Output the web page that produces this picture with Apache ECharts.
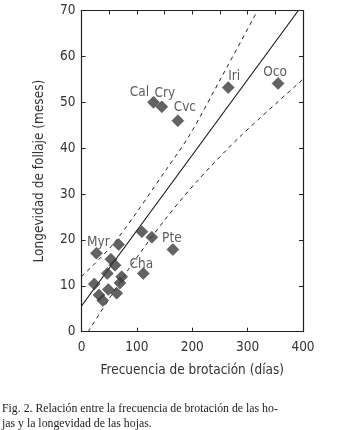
<!DOCTYPE html>
<html>
<head>
<meta charset="utf-8">
<script src="https://cdn.jsdelivr.net/npm/echarts@6/dist/echarts.min.js"></script>
<style>
  html, body { margin: 0; padding: 0; background: #fff; }
  #chart { width: 357px; height: 430px; }
</style>
</head>
<body>
<div id="chart"></div>
<script>
// datos
var spNames = ['Cal', 'Cry', 'Cvc', 'Iri', 'Oco', 'Pte', 'Myr', '', '', '', '', '', '', '', 'Cha', '', '', '', '', '', ''];
var spX = [130, 145, 174, 265, 355, 165, 27, 67, 109, 127, 53, 60.5, 46.6, 72.6, 111.6, 23, 69.5, 48.4, 63.6, 31.6, 38.5];
var spY = [50.0, 49.0, 46.0, 53.2, 54.1, 17.9, 17.1, 19.0, 21.8, 20.6, 15.8, 14.5, 12.7, 12.0, 12.7, 10.4, 10.6, 9.2, 8.4, 8.0, 6.8];

// recta de regresion y bandas (puntos leidos)
var fitX = [0, 391.6];
var fitY = [5.6, 70];
var upperX = [0, 60, 154, 196, 253, 318];
var upperY = [12, 19.5, 35.5, 43, 55.5, 70];
var lowerX = [12, 85, 150, 208, 286, 400];
var lowerY = [0, 13.6, 24.3, 32.7, 42.5, 55];

var xTicks = [0, 100, 200, 300, 400];
var yTicks = [0, 10, 20, 30, 40, 50, 60, 70];

var narrow = "'Liberation Sans Narrow', 'DejaVu Sans Condensed', 'Roboto Condensed', 'Liberation Sans', sans-serif";

// desplazamiento de cada etiqueta respecto al rombo
var labelOffset = {
  Cal: [-14, -10], Cry: [3, -13], Cvc: [7, -13], Iri: [6, -11],
  Oco: [-3, -11], Pte: [-1, -11], Myr: [2, -11], Cha: [-2, -9]
};

function pairs (xs, ys) {
  return xs.map(function (x, i) { return [x, ys[i]]; });
}

var chart = echarts.init(document.getElementById('chart'));

var points = spX.map(function (x, i) {
  var n = spNames[i];
  var d = { name: n, value: [x, spY[i]] };
  if (n) {
    d.label = { show: true, offset: labelOffset[n] };
  }
  return d;
});

var dashStyle = { color: '#222', width: 1, type: [4, 4] };
var frameLine = { onZero: false, lineStyle: { color: '#222', width: 1.2 } };
var tick = { show: true, inside: true, length: 4, lineStyle: { color: '#222' } };

var option = {
  animation: false,
  title: {
    text: 'Fig. 2. Relación entre la frecuencia de brotación de las ho-\njas y la longevidad de las hojas.',
    left: 2,
    top: 401,
    padding: 0,
    textStyle: {
      fontFamily: "'Liberation Serif', 'DejaVu Serif', serif",
      fontWeight: 'normal',
      fontSize: 11.8,
      lineHeight: 15,
      color: '#222'
    }
  },
  grid: { left: 81.5, right: 54, top: 10.5, bottom: 98.3 },
  xAxis: [{
    type: 'value',
    position: 'bottom',
    min: xTicks[0],
    max: xTicks[xTicks.length - 1],
    interval: 100,
    name: 'Frecuencia de brotación (días)',
    nameLocation: 'middle',
    nameGap: 32,
    nameTextStyle: { fontFamily: narrow, fontSize: 13.5, color: '#333' },
    axisLine: frameLine,
    axisTick: tick,
    axisLabel: { fontFamily: narrow, fontSize: 13.5, color: '#333', margin: 9 },
    splitLine: { show: false }
  }, {
    type: 'value',
    position: 'top',
    min: 0,
    max: 400,
    interval: 50,
    axisLine: frameLine,
    axisTick: tick,
    axisLabel: { show: false },
    splitLine: { show: false }
  }],
  yAxis: [{
    type: 'value',
    position: 'left',
    min: yTicks[0],
    max: yTicks[yTicks.length - 1],
    interval: 10,
    name: 'Longevidad de follaje (meses)',
    nameLocation: 'middle',
    nameGap: 35,
    nameTextStyle: { fontFamily: narrow, fontSize: 13.5, color: '#333' },
    axisLine: { show: true, onZero: false, lineStyle: { color: '#222', width: 1.2 } },
    axisTick: tick,
    axisLabel: { fontFamily: narrow, fontSize: 13.5, color: '#333', margin: 6 },
    splitLine: { show: false }
  }, {
    type: 'value',
    position: 'right',
    min: 0,
    max: 70,
    interval: 10,
    axisLine: { show: true, onZero: false, lineStyle: { color: '#222', width: 1.2 } },
    axisTick: tick,
    axisLabel: { show: false },
    splitLine: { show: false }
  }],
  series: [{
    type: 'line',
    data: pairs(fitX, fitY),
    showSymbol: false,
    lineStyle: { color: '#111', width: 1.1 },
    z: 1
  }, {
    type: 'line',
    data: pairs(upperX, upperY),
    smooth: 0.3,
    showSymbol: false,
    lineStyle: dashStyle,
    z: 1
  }, {
    type: 'line',
    data: pairs(lowerX, lowerY),
    smooth: 0.3,
    showSymbol: false,
    lineStyle: dashStyle,
    z: 1
  }, {
    type: 'scatter',
    data: points,
    symbol: 'diamond',
    symbolSize: [12, 12],
    itemStyle: { color: '#3c3c3c', borderColor: '#222', borderWidth: 0.5 },
    label: {
      show: false,
      position: 'inside',
      formatter: '{b}',
      fontFamily: narrow,
      fontSize: 13.5,
      color: '#333'
    },
    z: 3
  }]
};

chart.setOption(option, true);
</script>
</body>
</html>
